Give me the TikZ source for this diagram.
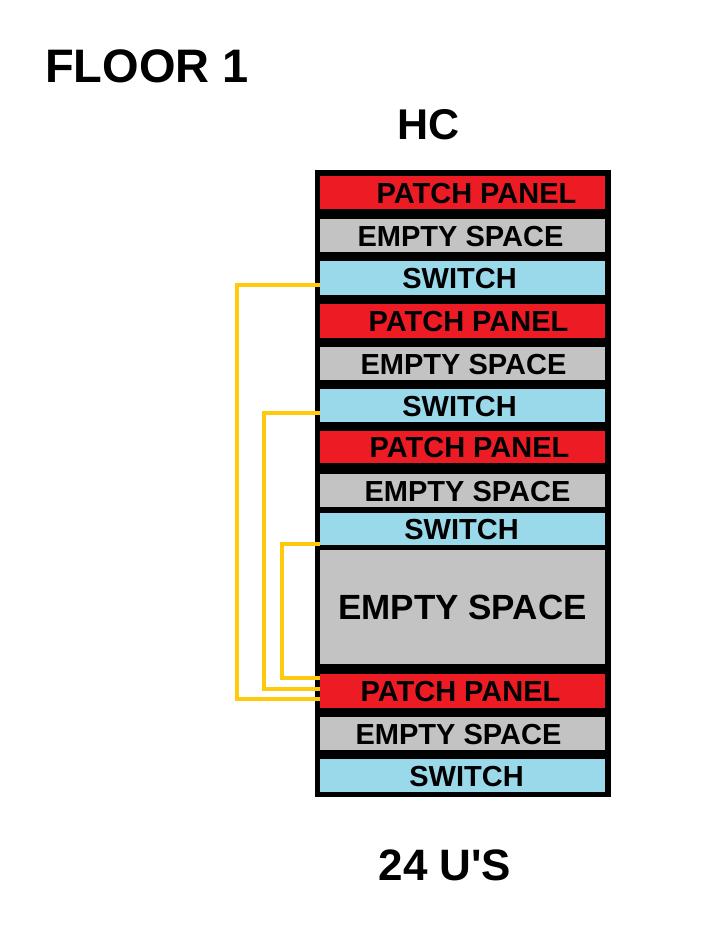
\documentclass[tikz,border=0pt]{standalone}
\usepackage{fontspec}
\setmainfont{Liberation Sans}[Ligatures=TeXOff]
\usetikzlibrary{calc}
\definecolor{panelred}{HTML}{ED1C24}
\definecolor{spacegray}{HTML}{C3C3C3}
\definecolor{switchblue}{HTML}{99D9EA}
\definecolor{cableyellow}{HTML}{FFC90E}

\begin{document}
\begin{tikzpicture}[
      x=1pt, y=-1pt,
      title/.style={font=\bfseries\fontsize{47}{52}\selectfont, anchor=base, inner sep=0},
      slot/.style={rectangle, inner sep=0, minimum width=285pt},
      slot text/.style={font=\bfseries\fontsize{29}{34}\selectfont},
      cable/.style={line width=4pt, cableyellow}
      ]
      \useasboundingbox (0,0) rectangle (704,952);
      % titles
      \node [title, anchor=base west] (floor) at (45,83) {FLOOR 1};
      \node [title, font=\bfseries\fontsize{43}{50}\selectfont] (hc) at (429,140) {HC};
      \node [title, font=\bfseries\fontsize{44}{50}\selectfont] (units) at (445,880) {24 U'S};
      % rack
      \fill [black] (315,170) rectangle (611,797);
      % slots
      \foreach \n/\t/\b/\c/\s/\d in {pp1/176/209/panelred/PATCH PANEL/14,
          es1/219/252/spacegray/EMPTY SPACE/-2,
          sw1/261/295/switchblue/SWITCH/-3,
          pp2/304/338/panelred/PATCH PANEL/6,
          es2/347/380/spacegray/EMPTY SPACE/1,
          sw2/389/422/switchblue/SWITCH/-3,
          pp3/431/463/panelred/PATCH PANEL/7,
          es3/474/507/spacegray/EMPTY SPACE/5,
          sw3/513/545/switchblue/SWITCH/-1,
          pp4/674/708/panelred/PATCH PANEL/-2,
          es5/717/750/spacegray/EMPTY SPACE/-4,
          sw4/759/792/switchblue/SWITCH/4} {
          \node [slot, fill=\c, minimum height={(\b-\t)*1pt},
            label={[slot text, xshift=\d pt, yshift=-1pt]center:\s}]
            (\n) at (462.5,{(\t+\b)/2}) {};
      }
      % big empty space
      \node [slot, minimum height=114pt, fill=spacegray,
        label={[font=\bfseries\fontsize{35}{40}\selectfont]center:EMPTY SPACE}]
        (es4) at (462.5,607) {};
      % cables
      \draw [cable] ([yshift=-7pt]sw1.west) -- ++(-83,0) |- ([yshift=-8pt]pp4.west);
      \draw [cable] ([yshift=-7.5pt]sw2.west) -- ++(-56,0) |- ([yshift=2pt]pp4.west);
      \draw [cable] ([yshift=-15pt]sw3.west) -- ++(-38,0) |- ([yshift=13pt]pp4.west);
    \end{tikzpicture}
\end{document}
